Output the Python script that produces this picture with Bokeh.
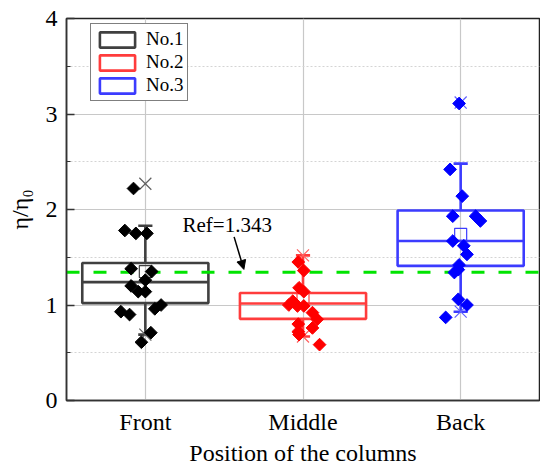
import math
from bokeh.plotting import figure
from bokeh.models import (FixedTicker, SingleIntervalTicker, Legend, LegendItem,
                          Arrow, NormalHead, Label)
from bokeh.embed import file_html
from bokeh.resources import INLINE

# ---------------- data ----------------
categories = ["Front", "Middle", "Back"]
series = ["No.1", "No.2", "No.3"]
positions = [1, 2, 3]

front_y = [2.22, 1.78, 1.75, 1.75, 1.38, 1.35, 1.26, 1.20, 1.14, 1.14, 1.00, 0.96, 0.93, 0.90, 0.71, 0.61]
front_dx = [-0.075, -0.13, -0.06, 0.01, -0.09, 0.04, 0.0, -0.09, -0.045, 0.0, 0.10, 0.06, -0.155, -0.10, 0.035, -0.025]

middle_y = [1.45, 1.36, 1.18, 1.14, 1.04, 1.00, 0.99, 0.99, 0.92, 0.85, 0.80, 0.76, 0.72, 0.69, 0.585]
middle_dx = [-0.03, 0.005, -0.025, 0.005, -0.065, -0.09, -0.035, 0.005, 0.06, 0.09, -0.03, 0.06, -0.03, -0.025, 0.105]

back_y = [3.11, 2.42, 2.14, 1.93, 1.93, 1.88, 1.67, 1.62, 1.53, 1.42, 1.37, 1.34, 1.06, 1.00, 0.87]
back_dx = [-0.01, -0.067, 0.01, -0.05, 0.095, 0.125, -0.05, 0.02, 0.04, -0.01, -0.015, -0.04, -0.015, 0.04, -0.095]

q1 = [1.02, 0.855, 1.41]
median = [1.24, 1.015, 1.67]
q3 = [1.44, 1.125, 1.99]
mean = [1.35, 1.07, 1.74]
whisker_lo = [0.69, 0.67, 0.93]
whisker_hi = [1.83, 1.52, 2.48]
min_v = [0.69, 0.67, 0.93]
max_v = [2.27, 1.52, 3.12]

ref_value = 1.343
ref_label = "Ref=1.343"

points_y = [front_y, middle_y, back_y]
points_dx = [front_dx, middle_dx, back_dx]

# ---------------- styles ----------------
box_colors = ["#404040", "#ff3c3c", "#3c3cff"]
point_colors = ["#000000", "#ff0000", "#0000ff"]
x_colors = ["#606060", "#ff6060", "#6060ff"]
FONT = "Liberation Serif"
half_w = 0.4
cap_half = 0.045

p = figure(width=540, height=468, x_range=(0.5, 3.5), y_range=(0, 4),
           output_backend="svg", toolbar_location=None,
           min_border_left=66, min_border_right=1, min_border_top=18, min_border_bottom=67)

p.background_fill_color = "white"
p.outline_line_color = "#222222"
p.outline_line_width = 1.5

# grids
p.xgrid.ticker = FixedTicker(ticks=positions)
p.xgrid.grid_line_color = "#c8c8c8"
p.xgrid.grid_line_width = 1.2
p.ygrid.grid_line_color = "#c8c8c8"
p.ygrid.grid_line_width = 1.2
p.ygrid.minor_grid_line_color = "#d4d4d4"
p.ygrid.minor_grid_line_dash = "2 2"
p.ygrid.minor_grid_line_width = 1

xax = p.xaxis[0]
yax = p.yaxis[0]

# axes
xax.ticker = FixedTicker(ticks=positions)
xax.major_label_overrides = {pos: cat for pos, cat in zip(positions, categories)}
xax.major_tick_in = 0
xax.major_tick_out = 0
xax.minor_tick_line_color = None
xax.axis_label = "Position of the columns"
xax.major_label_standoff = 8
xax.axis_label_standoff = 2

yax.ticker = SingleIntervalTicker(interval=1, num_minor_ticks=2)
yax.major_tick_in = 8
yax.major_tick_out = 0
yax.minor_tick_in = 4
yax.minor_tick_out = 0
yax.axis_label = "η/η₀"
yax.major_label_standoff = 9
yax.axis_label_standoff = 10
yax.minor_tick_line_color = "#333333"
yax.minor_tick_line_width = 1.2

for ax in (xax, yax):
    ax.axis_line_color = "#333333"
    ax.axis_line_width = 1.5
    ax.major_tick_line_color = "#333333"
    ax.major_tick_line_width = 1.5
    ax.major_label_text_font = FONT
    ax.major_label_text_font_size = "24px"
    ax.major_label_text_color = "black"
    ax.axis_label_text_font = FONT
    ax.axis_label_text_font_size = "24px"
    ax.axis_label_text_font_style = "normal"
    ax.axis_label_text_color = "black"

legend_items = []
for i, pos in enumerate(positions):
    c = box_colors[i]
    box = p.quad(left=[pos - half_w], right=[pos + half_w], bottom=[q1[i]], top=[q3[i]],
                 fill_color="white", fill_alpha=0, line_color=c, line_width=2.6)
    legend_items.append(LegendItem(label=series[i], renderers=[box]))
    # median
    p.segment(x0=[pos - half_w], x1=[pos + half_w], y0=[median[i]], y1=[median[i]],
              line_color=c, line_width=2.6)
    # whiskers
    p.segment(x0=[pos, pos], x1=[pos, pos], y0=[q3[i], q1[i]], y1=[whisker_hi[i], whisker_lo[i]],
              line_color=c, line_width=2.6)
    # caps
    p.segment(x0=[pos - cap_half, pos - cap_half], x1=[pos + cap_half, pos + cap_half],
              y0=[whisker_hi[i], whisker_lo[i]], y1=[whisker_hi[i], whisker_lo[i]],
              line_color=c, line_width=2.6)
    # mean
    p.scatter(x=[pos], y=[mean[i]], marker="square", size=12, fill_alpha=0,
              line_color=c, line_width=1.2)
    # min / max
    p.scatter(x=[pos, pos], y=[min_v[i], max_v[i]], marker="x", size=17,
              line_color=x_colors[i], line_width=1.2)

# reference line
p.segment(x0=[0.5], x1=[3.5], y0=[ref_value], y1=[ref_value],
          line_color="#00e400", line_width=3.2, line_dash="13 14")

# points (rotated squares = diamonds)
for i, pos in enumerate(positions):
    xs = [pos + d for d in points_dx[i]]
    p.scatter(x=xs, y=points_y[i], marker="square", size=9, angle=math.pi / 4,
              fill_color=point_colors[i], line_color=point_colors[i])

# annotation
p.add_layout(Label(x=1.236, y=ref_value + 0.49, text=ref_label, text_font=FONT,
                   text_font_size="21px", text_color="black", text_baseline="alphabetic"))
p.add_layout(Arrow(end=NormalHead(size=9, fill_color="black", line_color="black"),
                   x_start=1.563, y_start=ref_value + 0.37, x_end=1.625, y_end=ref_value + 0.03,
                   line_color="black", line_width=1.5))

legend = Legend(items=legend_items, location=(24, 299))
legend.label_text_font = FONT
legend.label_text_font_size = "19px"
legend.label_text_color = "black"
legend.glyph_width = 44
legend.glyph_height = 19
legend.label_height = 19
legend.padding = 4
legend.spacing = 1
legend.margin = 0
legend.label_standoff = 7
legend.border_line_color = "black"
legend.border_line_width = 1.5
legend.background_fill_alpha = 1
p.add_layout(legend, "center")

open("out.html", "w").write(file_html(p, INLINE))
